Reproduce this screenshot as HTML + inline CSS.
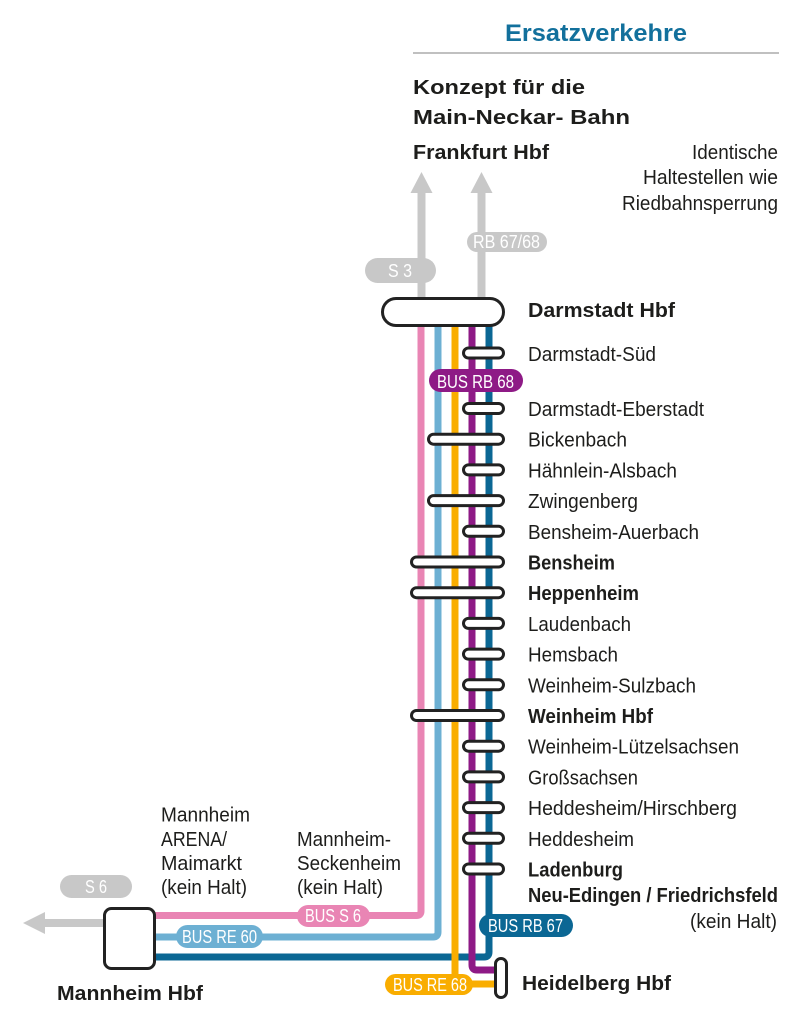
<!DOCTYPE html>
<html><head><meta charset="utf-8"><style>
html,body{margin:0;padding:0;background:#fff;}
svg{display:block;}
text{font-family:"Liberation Sans Narrow","Liberation Sans",sans-serif;}
.st{font-size:20px;fill:#1d1d1b;}
.b{font-weight:bold;}
.w{fill:#fff;font-size:18px;}
</style></head><body>
<svg width="801" height="1024" viewBox="0 0 801 1024" xmlns="http://www.w3.org/2000/svg">
<rect width="801" height="1024" fill="#fff"/>
<!-- header -->
<text x="505" y="41" font-size="24" font-weight="bold" fill="#12709c" textLength="182" lengthAdjust="spacingAndGlyphs">Ersatzverkehre</text>
<line x1="413" y1="53" x2="779" y2="53" stroke="#9a9a9a" stroke-width="1.2"/>
<text class="st b" x="413" y="94" font-size="23" textLength="172" lengthAdjust="spacingAndGlyphs">Konzept für die</text>
<text class="st b" x="413" y="124" font-size="23" textLength="217" lengthAdjust="spacingAndGlyphs">Main-Neckar- Bahn</text>
<text class="st b" x="413" y="159" font-size="21" textLength="136" lengthAdjust="spacingAndGlyphs">Frankfurt Hbf</text>
<text class="st" x="692" y="159" textLength="86" lengthAdjust="spacingAndGlyphs">Identische</text>
<text class="st" x="643" y="184" textLength="135" lengthAdjust="spacingAndGlyphs">Haltestellen wie</text>
<text class="st" x="622" y="210" textLength="156" lengthAdjust="spacingAndGlyphs">Riedbahnsperrung</text>

<!-- gray arrows -->
<g fill="#c8c8c8" stroke="none">
<rect x="417.5" y="190" width="8" height="110"/>
<polygon points="421.5,172 432.5,193 410.5,193"/>
<rect x="477.5" y="190" width="8" height="110"/>
<polygon points="481.5,172 492.5,193 470.5,193"/>
<rect x="42" y="919" width="64" height="8"/>
<polygon points="23,923 45,912 45,934"/>
<rect x="365" y="258" width="71" height="25" rx="12.5"/>
<rect x="467" y="232" width="80" height="20" rx="10"/>
<rect x="60" y="875" width="72" height="23" rx="11.5"/>
</g>
<text class="w" x="388" y="277" font-size="18" textLength="24" lengthAdjust="spacingAndGlyphs">S 3</text>
<text class="w" x="473" y="248" font-size="17" textLength="67" lengthAdjust="spacingAndGlyphs">RB 67/68</text>
<text class="w" x="85" y="893" font-size="18" textLength="22" lengthAdjust="spacingAndGlyphs">S 6</text>

<!-- colored lines -->
<g fill="none" stroke-width="7" stroke-linejoin="round">
<path d="M421 310 V911 Q421 915.5 416.5 915.5 H150" stroke="#e985b4"/>
<path d="M438 310 V932 Q438 937 433 937 H150" stroke="#6db0d3"/>
<path d="M489 310 V952 Q489 957 484 957 H150" stroke="#0b6794"/>
<path d="M455 310 V979 Q455 984 460 984 H497" stroke="#f9ad00"/>
<path d="M472 310 V965 Q472 970 477 970 H497" stroke="#8e1a86"/>
</g>

<!-- stations -->
<g fill="#fff" stroke="#222" stroke-width="3">
<rect x="382.5" y="298.5" width="121" height="27" rx="13.5"/>
<rect x="463.5" y="348" width="40" height="10" rx="5"/>
<rect x="463.5" y="403.5" width="40" height="10" rx="5"/>
<rect x="428.5" y="434.2" width="75" height="10" rx="5"/>
<rect x="463.5" y="464.9" width="40" height="10" rx="5"/>
<rect x="428.5" y="495.6" width="75" height="10" rx="5"/>
<rect x="463.5" y="526.3" width="40" height="10" rx="5"/>
<rect x="411.5" y="557" width="92" height="10" rx="5"/>
<rect x="411.5" y="587.7" width="92" height="10" rx="5"/>
<rect x="463.5" y="618.4" width="40" height="10" rx="5"/>
<rect x="463.5" y="649.1" width="40" height="10" rx="5"/>
<rect x="463.5" y="679.8" width="40" height="10" rx="5"/>
<rect x="411.5" y="710.5" width="92" height="10" rx="5"/>
<rect x="463.5" y="741.2" width="40" height="10" rx="5"/>
<rect x="463.5" y="771.9" width="40" height="10" rx="5"/>
<rect x="463.5" y="802.6" width="40" height="10" rx="5"/>
<rect x="463.5" y="833.3" width="40" height="10" rx="5"/>
<rect x="463.5" y="864" width="40" height="10" rx="5"/>
<rect x="104.5" y="908.5" width="50" height="60" rx="7"/>
<rect x="495.5" y="958.5" width="11" height="39" rx="5.5"/>
</g>

<!-- bus pills -->
<rect x="429" y="369" width="94" height="23" rx="11.5" fill="#8e1a86"/>
<text class="w" x="437" y="388" textLength="77" lengthAdjust="spacingAndGlyphs">BUS RB 68</text>
<rect x="479" y="914" width="94" height="23" rx="11.5" fill="#0b6794"/>
<text class="w" x="488" y="932" textLength="75" lengthAdjust="spacingAndGlyphs">BUS RB 67</text>
<rect x="385" y="974" width="88" height="21" rx="10.5" fill="#f9ad00"/>
<text class="w" x="393" y="991" textLength="74" lengthAdjust="spacingAndGlyphs">BUS RE 68</text>
<rect x="297" y="905" width="73" height="22" rx="11" fill="#e985b4"/>
<text class="w" x="305" y="922" textLength="56" lengthAdjust="spacingAndGlyphs">BUS S 6</text>
<rect x="176" y="925" width="87" height="23" rx="11.5" fill="#6db0d3"/>
<text class="w" x="182" y="943" textLength="75" lengthAdjust="spacingAndGlyphs">BUS RE 60</text>

<!-- station labels -->
<text class="st b" x="528" y="317" font-size="21" textLength="147" lengthAdjust="spacingAndGlyphs">Darmstadt Hbf</text>
<text class="st" x="528" y="361" textLength="128" lengthAdjust="spacingAndGlyphs">Darmstadt-Süd</text>
<text class="st" x="528" y="416" textLength="176" lengthAdjust="spacingAndGlyphs">Darmstadt-Eberstadt</text>
<text class="st" x="528" y="446.7" textLength="99" lengthAdjust="spacingAndGlyphs">Bickenbach</text>
<text class="st" x="528" y="477.4" textLength="149" lengthAdjust="spacingAndGlyphs">Hähnlein-Alsbach</text>
<text class="st" x="528" y="508.1" textLength="110" lengthAdjust="spacingAndGlyphs">Zwingenberg</text>
<text class="st" x="528" y="538.8" textLength="171" lengthAdjust="spacingAndGlyphs">Bensheim-Auerbach</text>
<text class="st b" x="528" y="569.5" textLength="87" lengthAdjust="spacingAndGlyphs">Bensheim</text>
<text class="st b" x="528" y="600.2" textLength="111" lengthAdjust="spacingAndGlyphs">Heppenheim</text>
<text class="st" x="528" y="630.9" textLength="103" lengthAdjust="spacingAndGlyphs">Laudenbach</text>
<text class="st" x="528" y="661.6" textLength="90" lengthAdjust="spacingAndGlyphs">Hemsbach</text>
<text class="st" x="528" y="692.3" textLength="168" lengthAdjust="spacingAndGlyphs">Weinheim-Sulzbach</text>
<text class="st b" x="528" y="723" textLength="125" lengthAdjust="spacingAndGlyphs">Weinheim Hbf</text>
<text class="st" x="528" y="753.7" textLength="211" lengthAdjust="spacingAndGlyphs">Weinheim-Lützelsachsen</text>
<text class="st" x="528" y="784.4" textLength="110" lengthAdjust="spacingAndGlyphs">Großsachsen</text>
<text class="st" x="528" y="815.1" textLength="209" lengthAdjust="spacingAndGlyphs">Heddesheim/Hirschberg</text>
<text class="st" x="528" y="845.8" textLength="106" lengthAdjust="spacingAndGlyphs">Heddesheim</text>
<text class="st b" x="528" y="876.5" textLength="95" lengthAdjust="spacingAndGlyphs">Ladenburg</text>
<text class="st b" x="528" y="902" textLength="250" lengthAdjust="spacingAndGlyphs">Neu-Edingen / Friedrichsfeld</text>
<text class="st" x="690" y="928" textLength="87" lengthAdjust="spacingAndGlyphs">(kein Halt)</text>
<text class="st b" x="522" y="990" font-size="21" textLength="149" lengthAdjust="spacingAndGlyphs">Heidelberg Hbf</text>
<text class="st b" x="57" y="1000" font-size="21" textLength="146" lengthAdjust="spacingAndGlyphs">Mannheim Hbf</text>

<text class="st" x="161" y="821.5" textLength="89" lengthAdjust="spacingAndGlyphs">Mannheim</text>
<text class="st" x="161" y="846" textLength="66" lengthAdjust="spacingAndGlyphs">ARENA/</text>
<text class="st" x="161" y="870" textLength="81" lengthAdjust="spacingAndGlyphs">Maimarkt</text>
<text class="st" x="161" y="894" textLength="86" lengthAdjust="spacingAndGlyphs">(kein Halt)</text>
<text class="st" x="297" y="846" textLength="94" lengthAdjust="spacingAndGlyphs">Mannheim-</text>
<text class="st" x="297" y="870" textLength="104" lengthAdjust="spacingAndGlyphs">Seckenheim</text>
<text class="st" x="297" y="894" textLength="86" lengthAdjust="spacingAndGlyphs">(kein Halt)</text>
</svg>
</body></html>
